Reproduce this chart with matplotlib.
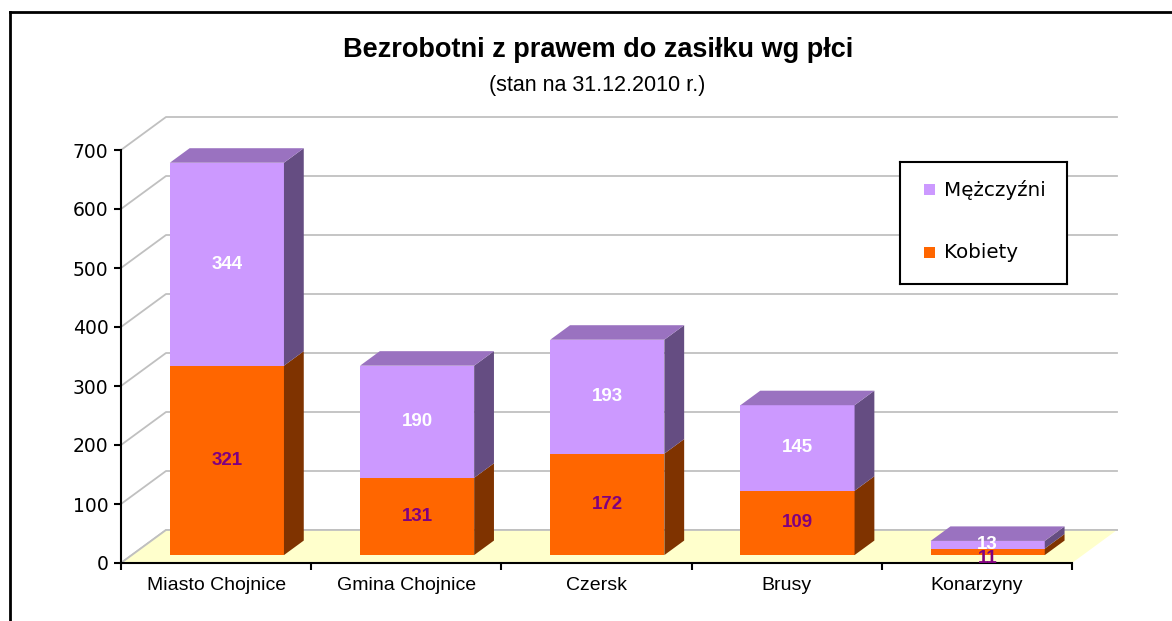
import matplotlib
matplotlib.use("Agg")
import matplotlib.pyplot as plt
from matplotlib.patches import Polygon
from matplotlib.lines import Line2D

# data
categories = ["Miasto Chojnice", "Gmina Chojnice", "Czersk", "Brusy", "Konarzyny"]
kobiety = [321, 131, 172, 109, 11]
mezczyzni = [344, 190, 193, 145, 13]
series_names = ["Mężczyźni", "Kobiety"]
yticks = [0, 100, 200, 300, 400, 500, 600, 700]

W, H = 1172, 621
fig = plt.figure(figsize=(W / 100, H / 100), dpi=100)

# axes box in pixels: x 121..1072, y 150(700)..563(0)
x0, x1, ytop, ybot = 121, 1072, 150, 563
ax = fig.add_axes([x0 / W, 1 - ybot / H, (x1 - x0) / W, (ybot - ytop) / H])
n = len(categories)
ax.set_xlim(0, n)
ax.set_ylim(0, 700)

pxx = (x1 - x0) / n          # px per category
pxy = (ybot - ytop) / 700.0  # px per unit
dxw, dyw = 45 / pxx, 33 / pxy  # wall depth in data units

grid_c = "#C0C0C0"
# back wall gridlines
for v in yticks:
    ax.plot([0, dxw, n + dxw], [v, v + dyw, v + dyw], color=grid_c, lw=1.3,
            clip_on=False, zorder=1)

# floor
ax.add_patch(Polygon([(0, 0), (n, 0), (n + dxw, dyw), (dxw, dyw)], closed=True,
                     facecolor="#FFFFCC", edgecolor="none", zorder=1.5, clip_on=False))
ax.plot([0, dxw, n + dxw], [0, dyw, dyw], color=grid_c, lw=1.3, clip_on=False, zorder=1.6)

# bars
f0, f1 = 0.24, 0.68
bw = 0.6
colors = {
    "k": ("#FF6600", "#7F3300", "#CC5200"),
    "m": ("#CC99FF", "#654D82", "#9A72C0"),
}


def block(xl, yb, yt, cols, top, z):
    front, side, topc = cols
    sx = dxw * f0
    sy = dyw * f0
    ddx = dxw * (f1 - f0)
    ddy = dyw * (f1 - f0)
    xl = xl + sx
    yb, yt = yb + sy, yt + sy
    xr = xl + bw
    ax.add_patch(Polygon([(xl, yb), (xr, yb), (xr, yt), (xl, yt)], closed=True,
                         facecolor=front, edgecolor="none", zorder=z, clip_on=False))
    ax.add_patch(Polygon([(xr, yb), (xr + ddx, yb + ddy), (xr + ddx, yt + ddy), (xr, yt)],
                         closed=True, facecolor=side, edgecolor="none", zorder=z, clip_on=False))
    if top:
        ax.add_patch(Polygon([(xl, yt), (xr, yt), (xr + ddx, yt + ddy), (xl + ddx, yt + ddy)],
                             closed=True, facecolor=topc, edgecolor="none", zorder=z,
                             clip_on=False))
    return (xl + xr) / 2


for i, (k, m) in enumerate(zip(kobiety, mezczyzni)):
    xl = i + (1 - bw) / 2
    z = 3 + i
    cx = block(xl, 0, k, colors["k"], False, z)
    block(xl, k, k + m, colors["m"], True, z)
    sy = dyw * f0
    # thin segments: push the labels apart a little, as the original does
    lo = -5 if k < 30 else 0
    ax.annotate(str(k), (cx, sy + k / 2), xytext=(0, lo), textcoords="offset points",
                ha="center", va="center", fontsize=13.5, fontweight="bold",
                color="#800080", family="Liberation Sans", zorder=20)
    ax.annotate(str(m), (cx, sy + k + m / 2), ha="center", va="center", fontsize=13.5,
                fontweight="bold", color="white", family="Liberation Sans", zorder=21)

# axes styling
for s in ["top", "right"]:
    ax.spines[s].set_visible(False)
ax.spines["left"].set_linewidth(1.5)
ax.spines["bottom"].set_linewidth(1.5)
ax.set_yticks(yticks)
ax.set_yticklabels([str(v) for v in yticks], fontsize=13.5, family="DejaVu Sans")
ax.set_xticks(range(n + 1))
ax.set_xticklabels([])
ax.set_xticks([i + 0.5 for i in range(n)], minor=True)
ax.set_xticklabels(categories, minor=True, fontsize=14, family="Liberation Sans")
ax.tick_params(axis="x", which="minor", length=0, pad=10)
ax.tick_params(axis="x", which="major", length=5, width=1.5, direction="out")
ax.tick_params(axis="y", length=5, width=1.5, pad=4)
ax.patch.set_visible(False)

# legend box
lx0, ly0, lx1, ly1 = 900, 162, 1067, 284
lax = fig.add_axes([lx0 / W, 1 - ly1 / H, (lx1 - lx0) / W, (ly1 - ly0) / H])
lax.set_xlim(0, lx1 - lx0)
lax.set_ylim(ly1 - ly0, 0)
lax.set_xticks([])
lax.set_yticks([])
for s in lax.spines.values():
    s.set_linewidth(1.5)
lax.set_zorder(30)
for name, col, yy in [(series_names[0], colors["m"][0], 28), (series_names[1], colors["k"][0], 91)]:
    lax.add_patch(Polygon([(24, yy - 6), (35, yy - 6), (35, yy + 5), (24, yy + 5)],
                          closed=True, facecolor=col, edgecolor="none"))
    lax.text(44, yy, name, va="center", ha="left", fontsize=14.3, family="DejaVu Sans")

# titles
fig.text(598 / W, 1 - 50 / H, "Bezrobotni z prawem do zasiłku wg płci", ha="center",
         va="center", fontsize=19.5, fontweight="bold", family="Liberation Sans")
fig.text(597 / W, 1 - 85 / H, "(stan na 31.12.2010 r.)", ha="center", va="center",
         fontsize=15.5, family="Liberation Sans")

# outer frame (left and top edges visible)
fig.add_artist(Line2D([10 / W, 10 / W], [0, 1 - 12 / H], color="black", lw=2))
fig.add_artist(Line2D([10 / W, 1], [1 - 12 / H, 1 - 12 / H], color="black", lw=2))

fig.savefig("out.png", dpi=100)
